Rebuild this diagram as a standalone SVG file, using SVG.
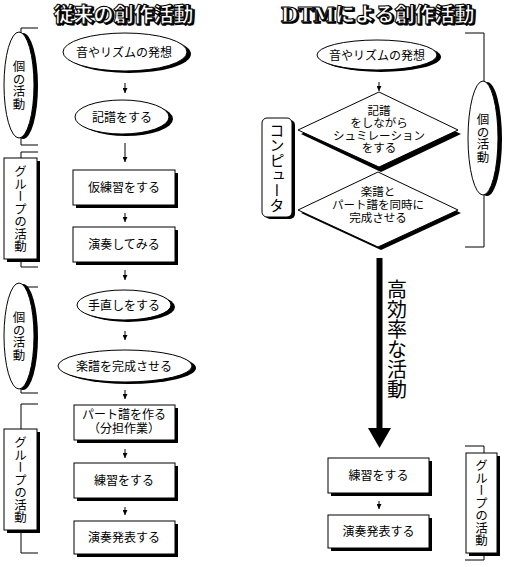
<svg xmlns="http://www.w3.org/2000/svg" width="510" height="567" viewBox="0 0 510 567">
<style>
text{font-family:"Noto Sans CJK JP","Noto Sans",sans-serif;fill:#000;}
.t{font-size:12px;text-anchor:middle;}
.d{font-size:11.5px;text-anchor:middle;}
.v{font-size:12.5px;writing-mode:vertical-rl;text-anchor:middle;}
.ttl{font-size:20px;font-weight:900;text-anchor:middle;fill:#fff;stroke:#000;stroke-width:1;}
.tsh{font-size:20px;font-weight:900;text-anchor:middle;fill:#000;stroke:#000;stroke-width:1.5;}
.lat{font-family:"DejaVu Serif","Liberation Serif",serif;font-weight:bold;}
.sh{fill:#000;stroke:none;}
.bx{fill:#fff;stroke:#000;stroke-width:1;}
.br{fill:none;stroke:#000;stroke-width:1;}
.ln{fill:none;stroke:#000;stroke-width:1;}
</style>
<defs>
<marker id="ah" viewBox="0 0 10 10" refX="10" refY="5" markerWidth="5" markerHeight="5" markerUnits="userSpaceOnUse" orient="auto">
<path d="M0,0 L10,5 L0,10 Z" fill="#000"/>
</marker>
</defs>

<!-- Titles -->
<g id="title-left">
<text class="tsh" x="125" y="23">従来の創作活動</text>
<text class="ttl" x="123.5" y="21.5">従来の創作活動</text>
</g>
<g id="title-right">
<text class="tsh" x="379" y="23"><tspan class="lat">DTM</tspan>による創作活動</text>
<text class="ttl" x="377.5" y="21.5"><tspan class="lat">DTM</tspan>による創作活動</text>
</g>

<!-- Left brackets and labels -->
<g id="bracket-l1">
<path class="br" d="M38,28 H21 V145 H38"/>
<ellipse class="sh" cx="23" cy="86" rx="15" ry="53"/>
<ellipse class="bx" cx="19" cy="85" rx="15" ry="53"/>
<text class="v" x="19" y="85">個の活動</text>
</g>
<g id="bracket-l2">
<path class="br" d="M38,152 H21 V267 H38"/>
<rect class="sh" x="7" y="161" width="33" height="101"/>
<rect class="bx" x="4" y="158" width="33" height="101"/>
<text class="v" x="20.5" y="209">グループの活動</text>
</g>
<g id="bracket-l3">
<path class="br" d="M38,287 H21 V393 H38"/>
<ellipse class="sh" cx="23" cy="337" rx="15" ry="53"/>
<ellipse class="bx" cx="19" cy="336" rx="15" ry="53"/>
<text class="v" x="19" y="336">個の活動</text>
</g>
<g id="bracket-l4">
<path class="br" d="M38,404 H21 V553 H38"/>
<rect class="sh" x="7" y="432" width="33" height="101"/>
<rect class="bx" x="4" y="429" width="33" height="101"/>
<text class="v" x="20.5" y="480">グループの活動</text>
</g>

<!-- Left column nodes -->
<g id="l-idea">
<ellipse class="sh" cx="129" cy="54" rx="62" ry="19"/>
<ellipse class="bx" cx="125" cy="52" rx="62" ry="19"/>
<text class="t" x="124" y="56.5">音やリズムの発想</text>
</g>
<g id="l-notate">
<ellipse class="sh" cx="126" cy="119" rx="47" ry="17"/>
<ellipse class="bx" cx="122" cy="117" rx="47" ry="17"/>
<text class="t" x="122" y="121.5">記譜をする</text>
</g>
<g id="l-rehearse">
<rect class="sh" x="76" y="173" width="102" height="35"/>
<rect class="bx" x="73" y="170" width="102" height="35"/>
<text class="t" x="124" y="192">仮練習をする</text>
</g>
<g id="l-try">
<rect class="sh" x="76" y="230" width="102" height="35"/>
<rect class="bx" x="73" y="227" width="102" height="35"/>
<text class="t" x="124" y="249">演奏してみる</text>
</g>
<g id="l-fix">
<ellipse class="sh" cx="128" cy="307" rx="47" ry="15"/>
<ellipse class="bx" cx="124" cy="305" rx="47" ry="15"/>
<text class="t" x="124" y="309.5">手直しをする</text>
</g>
<g id="l-complete">
<ellipse class="sh" cx="129" cy="368" rx="67" ry="16"/>
<ellipse class="bx" cx="125" cy="366" rx="67" ry="16"/>
<text class="t" x="124" y="370.5">楽譜を完成させる</text>
</g>
<g id="l-parts">
<rect class="sh" x="77" y="408" width="101" height="35"/>
<rect class="bx" x="74" y="405" width="101" height="35"/>
<text class="t" x="124" y="419">パート譜を作る<tspan x="124" dy="14">（分担作業）</tspan></text>
</g>
<g id="l-practice">
<rect class="sh" x="77" y="466" width="101" height="35"/>
<rect class="bx" x="74" y="463" width="101" height="35"/>
<text class="t" x="124" y="485">練習をする</text>
</g>
<g id="l-perform">
<rect class="sh" x="77" y="524" width="101" height="33"/>
<rect class="bx" x="74" y="521" width="101" height="33"/>
<text class="t" x="124" y="542">演奏発表する</text>
</g>

<!-- Right side -->
<g id="bracket-r1">
<path class="br" d="M465,33 H484 V247 H465"/>
<ellipse class="sh" cx="487" cy="139" rx="15" ry="57"/>
<ellipse class="bx" cx="483" cy="138" rx="15" ry="57"/>
<text class="v" x="483" y="138">個の活動</text>
</g>
<g id="bracket-r2">
<path class="br" d="M465,446 H484 V560 H465"/>
<rect class="sh" x="469" y="456" width="31" height="100"/>
<rect class="bx" x="466" y="453" width="31" height="100"/>
<text class="v" x="481.5" y="503">グループの活動</text>
</g>
<g id="computer">
<rect class="sh" x="265" y="120" width="30" height="99" rx="5"/>
<rect class="bx" x="262" y="118" width="30" height="99" rx="5"/>
<text class="v" x="277" y="167.5" style="font-size:15px">コンピュータ</text>
</g>
<g id="r-idea">
<ellipse class="sh" cx="381" cy="57" rx="60" ry="15"/>
<ellipse class="bx" cx="377" cy="55" rx="60" ry="15"/>
<text class="t" x="377" y="59.5">音やリズムの発想</text>
</g>
<g id="r-simulate">
<polygon class="sh" points="381,96 461,134 381,172 301,134"/>
<polygon class="bx" points="379,92 458,130 379,167 298,130"/>
<text class="d" x="379" y="114.5">記譜<tspan x="379" dy="12.5">をしながら</tspan><tspan x="379" dy="12.5">シュミレーション</tspan><tspan x="379" dy="12.5">をする</tspan></text>
</g>
<g id="r-complete">
<polygon class="sh" points="381,175 461,213 381,250 301,213"/>
<polygon class="bx" points="378,172 458,210 378,247 298,210"/>
<text class="d" x="378" y="196">楽譜と<tspan x="378" dy="13">パート譜を同時に</tspan><tspan x="378" dy="13">完成させる</tspan></text>
</g>
<g id="r-practice">
<rect class="sh" x="331" y="461" width="101" height="35"/>
<rect class="bx" x="328" y="458" width="101" height="35"/>
<text class="t" x="378.5" y="480">練習をする</text>
</g>
<g id="r-perform">
<rect class="sh" x="331" y="518" width="101" height="33"/>
<rect class="bx" x="328" y="515" width="101" height="33"/>
<text class="t" x="378.5" y="536">演奏発表する</text>
</g>
<g id="efficiency-label">
<text x="397" y="339" style="font-size:20px;writing-mode:vertical-rl;text-anchor:middle">高効率な活動</text>
</g>

<!-- Connectors -->
<g id="connectors">
<line class="ln" x1="125" y1="83" x2="125" y2="93" marker-end="url(#ah)"/>
<line class="ln" x1="125" y1="143" x2="125" y2="162" marker-end="url(#ah)"/>
<line class="ln" x1="125" y1="213" x2="125" y2="222" marker-end="url(#ah)"/>
<line class="ln" x1="125" y1="270" x2="125" y2="280" marker-end="url(#ah)"/>
<line class="ln" x1="125" y1="331" x2="125" y2="340" marker-end="url(#ah)"/>
<line class="ln" x1="125" y1="390" x2="125" y2="399" marker-end="url(#ah)"/>
<line class="ln" x1="125" y1="449" x2="125" y2="458" marker-end="url(#ah)"/>
<line class="ln" x1="125" y1="507" x2="125" y2="515" marker-end="url(#ah)"/>
<line class="ln" x1="379" y1="82" x2="379" y2="91" marker-end="url(#ah)"/>
<line class="ln" x1="379" y1="501" x2="379" y2="509" marker-end="url(#ah)"/>
<line x1="379.5" y1="258" x2="379.5" y2="430" stroke="#000" stroke-width="6"/>
<polygon points="368,428 391,428 379.5,448" fill="#000"/>
</g>
</svg>
